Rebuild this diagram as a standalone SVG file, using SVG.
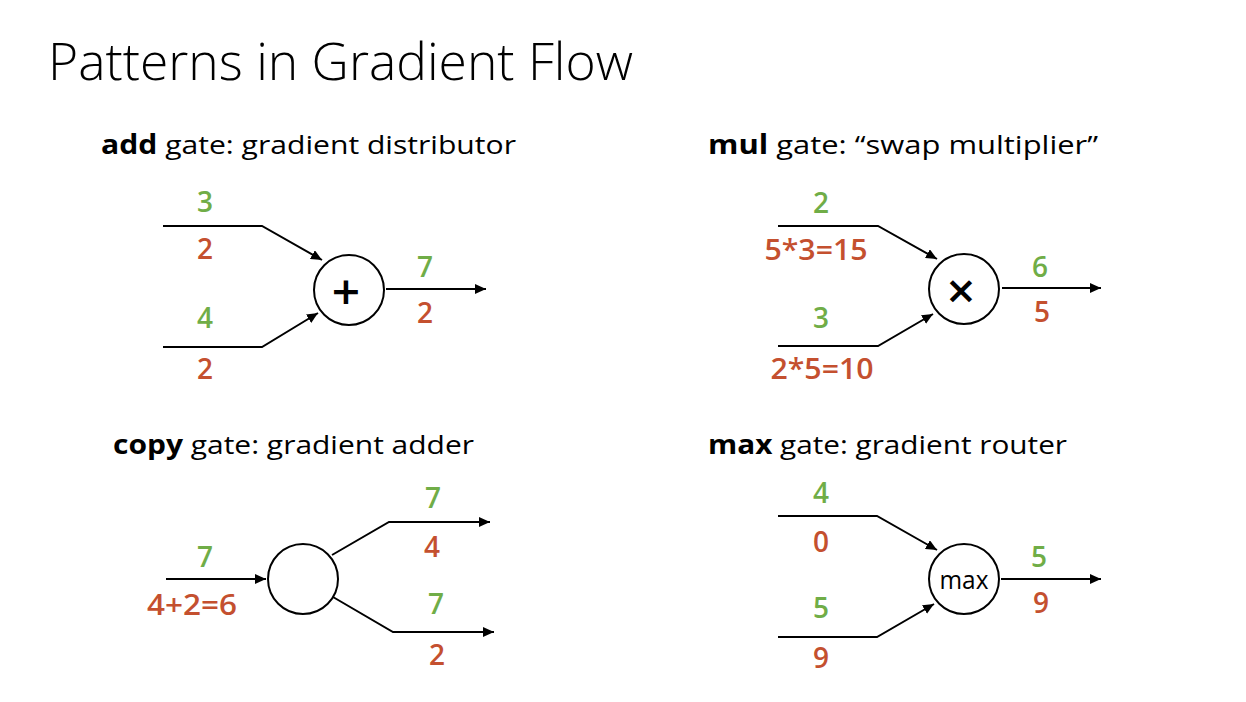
<svg xmlns="http://www.w3.org/2000/svg" width="1246" height="702" viewBox="0 0 1246 702">
<style>
text{font-family:"Open Sans","Liberation Sans",sans-serif;}
.title{font-size:52px;font-weight:300;fill:#000;}
.hdr{font-size:26px;fill:#000;}
.b{font-weight:700;}
.g{font-size:28px;font-weight:600;fill:#70AD47;text-anchor:middle;}
.r{font-size:28px;font-weight:600;fill:#C4502F;text-anchor:middle;}
.ln{stroke:#000;stroke-width:2;fill:none;}
.ar{stroke:#000;stroke-width:2;fill:none;marker-end:url(#ah);}
.node{fill:#fff;stroke:#000;stroke-width:2;}
.sym{font-family:"DejaVu Sans",sans-serif;font-weight:700;text-anchor:middle;fill:#000;}
</style>
<defs>
<marker id="ah" markerWidth="12" markerHeight="10" refX="11" refY="5" orient="auto" markerUnits="userSpaceOnUse">
<path d="M0,0 L11,5 L0,10 Z" fill="#000"/>
</marker>
</defs>
<rect width="1246" height="702" fill="#fff"/>
<text class="title" x="48" y="80" textLength="585" lengthAdjust="spacingAndGlyphs">Patterns in Gradient Flow</text>
<text class="hdr" x="101" y="154" textLength="415" lengthAdjust="spacingAndGlyphs"><tspan class="b">add</tspan> gate: gradient distributor</text>
<text class="hdr" x="708" y="154" textLength="390" lengthAdjust="spacingAndGlyphs"><tspan class="b">mul</tspan> gate: “swap multiplier”</text>
<text class="hdr" x="113" y="454" textLength="361" lengthAdjust="spacingAndGlyphs"><tspan class="b">copy</tspan> gate: gradient adder</text>
<text class="hdr" x="708" y="454" textLength="359" lengthAdjust="spacingAndGlyphs"><tspan class="b">max</tspan> gate: gradient router</text>

<g id="connectors">
<path class="ar" d="M163,226 H262 L322,260"/>
<path class="ar" d="M163,347 H262 L318,313"/>
<path class="ar" d="M386,289 H486"/>
<path class="ar" d="M778,226 H878 L937,259"/>
<path class="ar" d="M778,346 H878 L933,314"/>
<path class="ar" d="M1002,288 H1101"/>
<path class="ar" d="M166,579 H266"/>
<path class="ar" d="M332,555 L389,522 H490"/>
<path class="ar" d="M333,597 L393,632 H494"/>
<path class="ar" d="M778,516 H877 L937,550"/>
<path class="ar" d="M778,637 H877 L934,604"/>
<path class="ar" d="M1001,579 H1101"/>
</g>

<g id="add-gate">
<circle class="node" cx="349" cy="290" r="35"/>
<text class="sym" x="346" y="304" font-size="38">+</text>
<text class="g" x="205" y="212">3</text>
<text class="r" x="205" y="259">2</text>
<text class="g" x="205" y="328">4</text>
<text class="r" x="205" y="379">2</text>
<text class="g" x="425" y="277">7</text>
<text class="r" x="425" y="323">2</text>
</g>

<g id="mul-gate">
<circle class="node" cx="964" cy="289" r="35"/>
<text class="sym" x="961" y="303" font-size="38">×</text>
<text class="g" x="821" y="213">2</text>
<text class="r" x="816" y="260" textLength="103" lengthAdjust="spacingAndGlyphs">5*3=15</text>
<text class="g" x="821" y="328">3</text>
<text class="r" x="822" y="379" textLength="103" lengthAdjust="spacingAndGlyphs">2*5=10</text>
<text class="g" x="1040" y="277">6</text>
<text class="r" x="1042" y="322">5</text>
</g>

<g id="copy-gate">
<circle class="node" cx="303" cy="579" r="35"/>
<text class="g" x="205" y="567">7</text>
<text class="r" x="192" y="615" textLength="90" lengthAdjust="spacingAndGlyphs">4+2=6</text>
<text class="g" x="433" y="508">7</text>
<text class="r" x="432" y="557">4</text>
<text class="g" x="436" y="614">7</text>
<text class="r" x="437" y="665">2</text>
</g>

<g id="max-gate">
<circle class="node" cx="964" cy="579" r="35"/>
<text x="964" y="589" font-size="26" text-anchor="middle" textLength="49" lengthAdjust="spacingAndGlyphs" fill="#000">max</text>
<text class="g" x="821" y="503">4</text>
<text class="r" x="821" y="552">0</text>
<text class="g" x="821" y="618">5</text>
<text class="r" x="821" y="668">9</text>
<text class="g" x="1039" y="567">5</text>
<text class="r" x="1041" y="613">9</text>
</g>
</svg>
